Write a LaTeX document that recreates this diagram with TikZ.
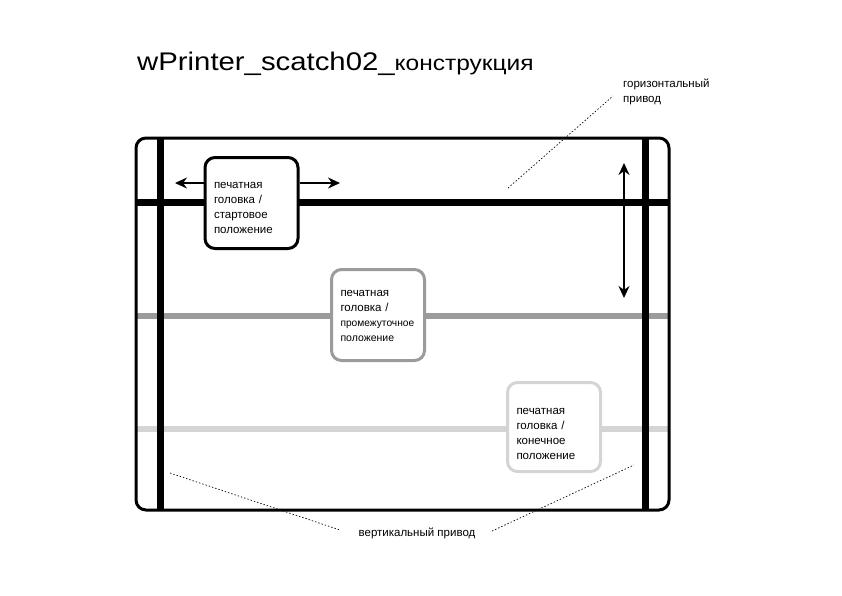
\documentclass[tikz,border=0pt]{standalone}
\usepackage{fontspec}
\setmainfont{Liberation Sans}
\usetikzlibrary{arrows.meta}
\definecolor{midgray}{RGB}{155,155,155}
\definecolor{lightgray}{RGB}{212,212,212}
\newcommand{\headtext}[2]{\raisebox{#1}[\height][\depth]{\parbox{75pt}{\raggedright #2}}}
\tikzset{
  lbl/.style={font=\fontsize{11.5}{15}\selectfont, inner sep=0pt, align=left},
  headbox/.style={draw, line width=3pt, rounded corners=10pt, fill=white,
    minimum width=93pt, minimum height=91pt, text width=75pt, inner xsep=9pt,
    align=left, font=\fontsize{11.5}{15}\selectfont},
  dotline/.style={line width=0.7pt, dash pattern=on 1.4pt off 2pt},
  movearrow/.style={line width=1.5pt, -{Stealth[length=12pt,width=11pt]}},
  movearrows/.style={line width=1.5pt, {Stealth[length=12pt,width=11pt]}-{Stealth[length=12pt,width=11pt]}}
}
\begin{document}
\begin{tikzpicture}[x=1pt,y=-1pt]
\useasboundingbox (0,0) rectangle (842,595);
% title
\node[anchor=base west, inner sep=0pt] (title) at (137,70)
  {\scalebox{1.15}[1]{{\fontsize{25.5}{30}\selectfont wPrinter\_scatch02\_}{\fontsize{21.3}{24}\selectfont конструкция}}};
% frame corners
\coordinate (fnw) at (136,138);
\coordinate (fse) at (669,510);
% gray rails
\draw[midgray, line width=6pt] (136,316) -- (669,316);
\draw[lightgray, line width=6pt] (136,429) -- (669,429);
% vertical rails
\draw[line width=7pt] (160,138) -- (160,510);
\draw[line width=7pt] (645.5,138) -- (645.5,510);
% top rail
\draw[line width=7pt] (136,202) -- (669,202);
% outer frame
\draw[line width=3pt, rounded corners=10pt] (fnw) rectangle (fse);
% heads
\node[headbox] (h1) at (251.5,203) {\headtext{-5pt}{печатная\\головка /\\стартовое\\положение}};
\node[headbox, draw=midgray] (h2) at (378,315)
  {\headtext{-1pt}{печатная\\головка /\\{\fontsize{10.2}{15}\selectfont промежуточное}\\{\fontsize{10.5}{15}\selectfont положение}}};
\node[headbox, draw=lightgray, minimum height=89pt] (h3) at (554,427) {\headtext{-7pt}{печатная\\головка /\\конечное\\положение}};
% arrows
\coordinate (al) at (175,183);
\coordinate (ar) at (340,183);
\draw[movearrow] (h1.west |- al) -- (al);
\draw[movearrow] (h1.east |- ar) -- (ar);
\coordinate (vt) at (624,163);
\coordinate (vb) at (624,298);
\draw[movearrows] (vt) -- (vb);
% labels
\node[lbl, anchor=north west] (hlab) at (623,79) {горизонтальный\\привод};
\coordinate (hd1) at (508,188);
\coordinate (hd2) at (613,96);
\draw[dotline] (hd1) -- (hd2);
\node[lbl, anchor=base] (vlab) at (417,536) {вертикальный привод};
\coordinate (vd1) at (170,473);
\coordinate (vd2) at (340,530);
\coordinate (vd3) at (492,531);
\coordinate (vd4) at (634,465);
\draw[dotline] (vd1) -- (vd2);
\draw[dotline] (vd3) -- (vd4);
\end{tikzpicture}
\end{document}
